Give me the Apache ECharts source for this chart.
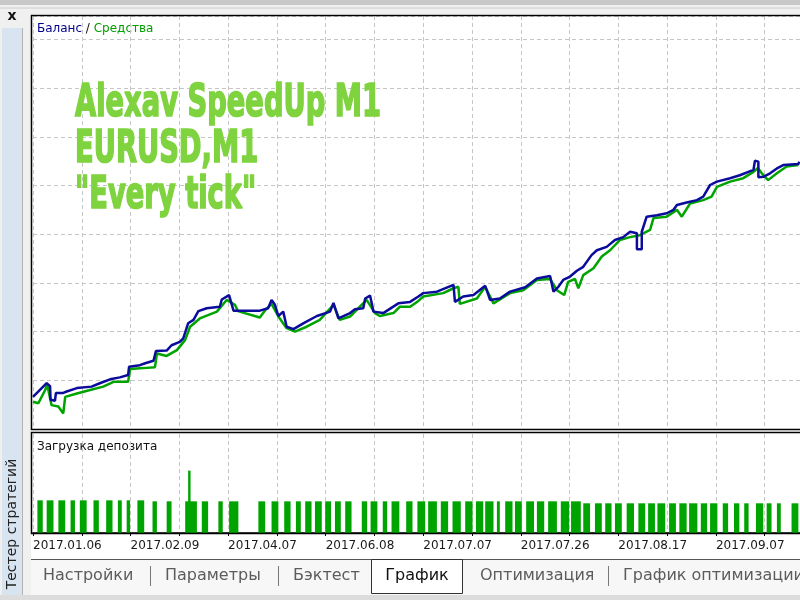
<!DOCTYPE html>
<html>
<head>
<meta charset="utf-8">
<script src="https://cdn.jsdelivr.net/npm/echarts@6/dist/echarts.min.js"></script>
<style>
html, body { margin: 0; padding: 0; background: #f0f0f0; }
#chart { width: 800px; height: 600px; }
</style>
</head>
<body>
<div id="chart"></div>
<script>
/* data: x = time units (10 per grid column), y = balance units (100 per grid row) */
const dateLabels = ['2017.01.06', '2017.02.09', '2017.04.07', '2017.06.08', '2017.07.07', '2017.07.26', '2017.08.17', '2017.09.07'];

const balance = [
    [0, 66], [2.8, 94], [3.5, 88], [3.6, 60], [4.5, 58], [4.7, 74], [6.2, 74], [6.9, 77], [9.0, 84],
    [12.0, 87], [13.7, 94], [15.8, 102], [17.8, 106], [19.5, 111], [19.7, 128], [21.9, 131], [23.0, 135],
    [24.7, 140], [25.2, 160], [27.4, 161], [28.4, 172], [30.1, 179], [30.8, 186], [31.8, 217], [32.9, 224],
    [33.9, 242], [35.6, 248], [38.3, 251], [38.7, 266], [40.2, 275], [41.1, 243], [46.5, 243], [48.2, 248],
    [48.9, 265], [49.6, 255], [50.3, 232], [51.3, 241], [52.0, 210], [53.4, 205], [55.4, 217], [58.2, 232],
    [60.9, 241], [61.6, 259], [62.6, 227], [65.0, 238], [66.0, 246], [67.7, 248], [68.1, 268], [69.1, 274],
    [69.8, 241], [71.8, 238], [74.9, 258], [77.3, 261], [79.0, 272], [80.0, 279], [82.8, 282], [86.2, 296],
    [86.5, 261], [88.2, 272], [90.3, 275], [92.7, 294], [93.7, 265], [95.7, 268], [97.8, 282], [100.9, 291],
    [103.3, 309], [106.0, 314], [106.7, 282], [107.7, 292], [108.7, 306], [110.1, 313], [111.5, 325],
    [112.8, 333], [114.5, 357], [115.6, 367], [117.6, 374], [119.3, 388], [121.0, 394], [122.4, 405],
    [123.8, 402], [123.8, 369], [124.8, 369], [124.8, 405], [125.8, 436], [127.9, 439], [129.9, 443],
    [131.3, 450], [132.0, 460], [134.0, 465], [136.1, 470], [137.4, 477], [138.8, 501], [140.2, 508],
    [142.9, 515], [144.9, 521], [147.7, 532], [148.0, 551], [148.7, 549], [148.7, 517], [149.8, 518],
    [151.1, 525], [152.5, 535], [153.8, 542], [156.9, 544], [157.1, 549]
];

const equity = [
    [0, 56], [1.1, 53], [2.5, 80], [2.9, 92], [3.8, 49], [5.2, 46], [6.2, 32], [6.6, 66], [9.0, 73],
    [11.7, 80], [14.4, 87], [16.5, 97], [19.5, 97], [19.9, 123], [22.6, 125], [25.0, 127], [25.4, 155],
    [27.4, 150], [29.5, 162], [31.2, 183], [32.2, 210], [34.2, 227], [37.7, 241], [39.7, 265], [41.4, 255],
    [42.0, 242], [46.5, 229], [47.6, 244], [48.9, 257], [50.3, 231], [52.0, 207], [53.7, 200], [56.1, 210],
    [58.8, 224], [61.6, 255], [62.9, 224], [65.0, 231], [68.4, 265], [70.1, 238], [71.1, 232], [73.9, 238],
    [75.2, 251], [77.3, 251], [79.0, 263], [80.0, 272], [84.1, 279], [86.2, 289], [87.2, 292], [87.5, 257],
    [91.0, 268], [92.7, 292], [94.4, 258], [97.8, 279], [100.5, 285], [103.3, 306], [106.0, 308],
    [107.4, 285], [108.9, 275], [109.7, 302], [111.1, 308], [111.8, 289], [112.8, 316], [114.9, 330],
    [116.6, 354], [118.3, 367], [120.3, 388], [122.4, 394], [124.4, 398], [126.5, 409], [127.2, 433],
    [129.9, 436], [132.0, 450], [133.0, 436], [134.7, 463], [137.4, 470], [139.1, 477], [140.2, 497],
    [142.9, 508], [145.6, 515], [147.7, 528], [148.6, 536], [149.4, 525], [150.7, 511], [152.5, 525],
    [154.5, 539], [156.9, 542]
];

/* deposit load: [from, to, load %] */
const loadBars = [
    [0.9, 2.0, 33], [2.8, 4.2, 33], [5.2, 6.6, 33], [7.7, 8.6, 33], [9.6, 11.0, 33], [12.4, 13.5, 33],
    [15.0, 16.3, 33], [17.4, 18.2, 33], [19.2, 19.9, 33], [21.4, 22.8, 33], [24.5, 25.4, 32], [27.4, 28.4, 32],
    [31.2, 33.6, 32], [31.8, 32.3, 63], [34.6, 35.9, 32], [38.0, 38.9, 32], [40.2, 42.1, 32], [46.2, 47.6, 32],
    [48.9, 50.3, 32], [51.5, 52.8, 32], [53.9, 54.9, 32], [55.8, 57.1, 32], [57.8, 59.2, 32], [59.9, 61.1, 32],
    [61.9, 63.1, 32], [64.0, 65.3, 32], [67.4, 68.5, 32], [69.2, 70.6, 32], [71.7, 72.6, 32], [73.5, 75.1, 32],
    [76.5, 77.8, 32], [78.8, 80.4, 32], [81.0, 82.8, 32], [83.6, 85.1, 32], [86.0, 87.7, 32], [88.6, 90.1, 32],
    [90.8, 92.3, 32], [92.7, 94.4, 32], [95.1, 95.7, 32], [96.8, 98.3, 32], [98.8, 100.2, 32], [101.1, 102.7, 32],
    [103.3, 104.8, 32], [105.6, 107.4, 32], [108.2, 109.9, 32], [110.3, 112.3, 32], [112.8, 114.2, 30],
    [115.2, 116.6, 30], [117.3, 118.6, 30], [119.3, 120.7, 30], [121.7, 123.2, 30], [124.1, 125.5, 30],
    [126.1, 127.5, 30], [128.0, 129.6, 30], [130.4, 131.8, 30], [132.5, 134.0, 30], [134.5, 136.2, 30],
    [136.9, 138.2, 30], [138.8, 140.3, 30], [141.4, 142.5, 30], [143.7, 144.8, 30], [145.8, 146.7, 30],
    [148.2, 149.7, 30], [150.4, 151.4, 30], [152.5, 153.3, 30], [155.5, 156.9, 30]
];

const tabs = [
    { text: 'Настройки', x: 43 }, { text: 'Параметры', x: 165 }, { text: 'Бэктест', x: 293 },
    { text: 'Оптимизация', x: 480 }, { text: 'График оптимизации', x: 623 }
];
const tabSeparators = [150, 278, 608];

const GREEN = '#00a400';
const BLUE = '#0b0b9c';
const WATERMARK = '#7ed33f';
const dashed = { show: true, lineStyle: { color: '#c6c6c6', type: [4, 3], width: 1 } };
const uiFont = "'DejaVu Sans', sans-serif";

const chart = echarts.init(document.getElementById('chart'), null, { renderer: 'canvas' });

const graphics = [
    // window chrome
    { type: 'rect', z: -10, shape: { x: 0, y: 0, width: 800, height: 5 }, style: { fill: '#c8c8c8' } },
    { type: 'rect', z: -10, shape: { x: 0, y: 7, width: 800, height: 2 }, style: { fill: '#dedede' } },
    { type: 'text', x: 12, y: 16, style: { text: 'x', font: 'bold 14px ' + uiFont, fill: '#111', align: 'center', verticalAlign: 'middle' } },
    { type: 'rect', z: -10, shape: { x: 2, y: 28, width: 20, height: 567 }, style: { fill: '#d8e4f0' } },
    { type: 'rect', z: -10, shape: { x: 22, y: 28, width: 1, height: 567 }, style: { fill: '#b4b4b4' } },
    { type: 'text', x: 12, y: 524, rotation: Math.PI / 2, style: { text: 'Тестер стратегий', font: '14px ' + uiFont, fill: '#222', align: 'center', verticalAlign: 'middle' } },
    { type: 'rect', z: -10, shape: { x: 31, y: 14, width: 769, height: 546 }, style: { fill: '#ffffff' } },
    { type: 'rect', z: -10, shape: { x: 31, y: 560, width: 769, height: 35 }, style: { fill: '#f7f7f7' } },
    { type: 'rect', z: -9, shape: { x: 31, y: 559, width: 769, height: 1 }, style: { fill: '#555' } },
    { type: 'rect', z: -10, shape: { x: 0, y: 595, width: 800, height: 5 }, style: { fill: '#dcdcdc' } },
    { type: 'rect', z: -9, shape: { x: 371.5, y: 559.5, width: 91, height: 34 }, style: { fill: '#ffffff', stroke: '#333', lineWidth: 1 } },
    { type: 'text', x: 417, y: 576, style: { text: 'График', font: '16px ' + uiFont, fill: '#111', align: 'center', verticalAlign: 'middle' } },
    // chart frames
    { type: 'rect', z: 50, shape: { x: 31.5, y: 15.5, width: 800, height: 414 }, style: { fill: 'none', stroke: '#000', lineWidth: 1.5 } },
    { type: 'rect', z: 50, shape: { x: 31.5, y: 432.5, width: 800, height: 101 }, style: { fill: 'none', stroke: '#000', lineWidth: 1.5 } },
    // captions
    { type: 'text', x: 37, y: 29, style: {
        text: '{b|Баланс} {s|/} {g|Средства}', font: '12px ' + uiFont, verticalAlign: 'middle',
        rich: { b: { fill: '#00008c' }, s: { fill: '#111' }, g: { fill: '#00a000' } }
    } },
    { type: 'text', x: 37, y: 447, style: { text: 'Загрузка депозита', font: '12px ' + uiFont, fill: '#111', verticalAlign: 'middle' } }
];

// watermark
['Alexav SpeedUp M1', 'EURUSD,M1', '"Every tick"'].forEach((t, i) => {
    graphics.push({
        type: 'text', z: 5, x: 75, y: 104 + i * 46, scaleX: 0.76, scaleY: 1.12,
        style: {
            text: t, font: "bold 40px 'DejaVu Sans Condensed', sans-serif",
            fill: WATERMARK, stroke: WATERMARK, lineWidth: 1.5, verticalAlign: 'middle',
            shadowColor: 'rgba(0,0,0,0.4)', shadowBlur: 10, shadowOffsetX: 3, shadowOffsetY: 5
        }
    });
});

tabs.forEach(t => {
    graphics.push({ type: 'text', x: t.x, y: 576, style: { text: t.text, font: '16px ' + uiFont, fill: '#5c5c5c', verticalAlign: 'middle' } });
});
tabSeparators.forEach(x => {
    graphics.push({ type: 'rect', shape: { x: x, y: 566, width: 1, height: 20 }, style: { fill: '#777' } });
});

chart.setOption({
    animation: false,
    backgroundColor: '#f0f0f0',
    graphic: graphics,
    grid: [
        { left: 33, top: 16, width: 800, height: 413, outerBoundsMode: 'none' },
        { left: 33, top: 434, width: 800, height: 99, outerBoundsMode: 'none' }
    ],
    xAxis: [
        {
            type: 'value', gridIndex: 0, min: 0, max: 164, interval: 10,
            axisLine: { show: false }, axisTick: { show: false }, axisLabel: { show: false },
            splitLine: dashed
        },
        {
            type: 'value', gridIndex: 1, min: 0, max: 164, interval: 10,
            axisLine: { show: true, lineStyle: { color: '#000', width: 1.5 } },
            axisTick: { show: true, length: 3, lineStyle: { color: '#000' } },
            axisLabel: {
                show: true, align: 'left', margin: 7, color: '#1a1a1a',
                fontFamily: 'DejaVu Sans', fontSize: 12,
                formatter: v => (v % 20 === 0 && dateLabels[v / 20]) ? dateLabels[v / 20] : ''
            },
            splitLine: dashed
        }
    ],
    yAxis: [
        {
            type: 'value', gridIndex: 0, min: 0, max: 848, interval: 100,
            axisLine: { show: false }, axisTick: { show: false }, axisLabel: { show: false },
            splitLine: dashed
        },
        {
            type: 'value', gridIndex: 1, min: 0, max: 100,
            axisLine: { show: false }, axisTick: { show: false }, axisLabel: { show: false },
            splitLine: { show: false }
        }
    ],
    series: [
        {
            name: 'Средства', type: 'line', xAxisIndex: 0, yAxisIndex: 0,
            data: equity, symbol: 'none', z: 3,
            lineStyle: { color: GREEN, width: 2.5 }
        },
        {
            name: 'Баланс', type: 'line', xAxisIndex: 0, yAxisIndex: 0,
            data: balance, symbol: 'none', z: 4,
            lineStyle: { color: BLUE, width: 2.5 }
        },
        {
            name: 'Загрузка депозита', type: 'custom', xAxisIndex: 1, yAxisIndex: 1,
            encode: { x: [0, 1], y: 2 },
            data: loadBars,
            renderItem: (params, api) => {
                const top = api.coord([api.value(0), api.value(2)]);
                const bottom = api.coord([api.value(1), 0]);
                return {
                    type: 'rect',
                    shape: { x: top[0], y: top[1], width: bottom[0] - top[0], height: bottom[1] - top[1] },
                    style: { fill: GREEN }
                };
            }
        }
    ]
});
</script>
</body>
</html>
